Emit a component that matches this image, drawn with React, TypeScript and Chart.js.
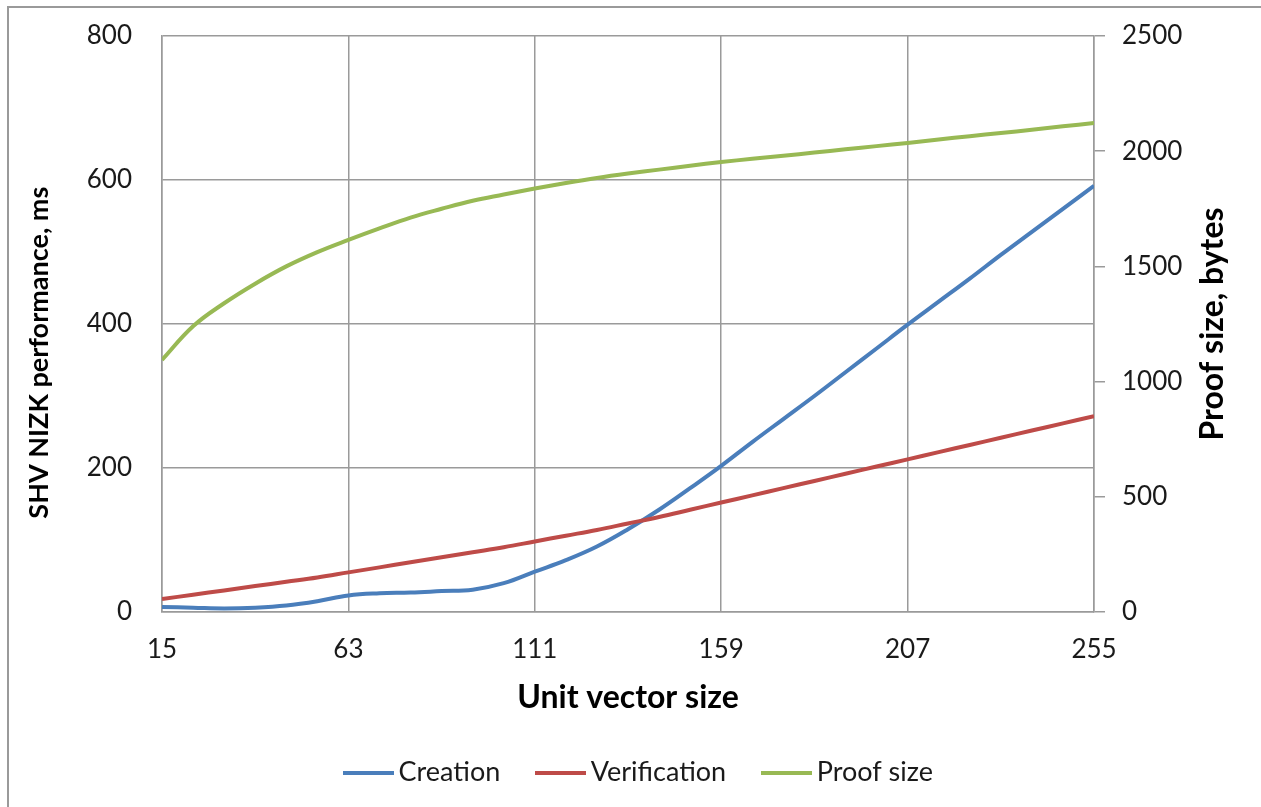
import React, { useEffect, useRef } from "react";
import { Chart, registerables } from "chart.js";

Chart.register(...registerables);

// Unit vector sizes (x values)
const unitSizes = [
  15, 23, 31, 39, 47, 55, 63, 71, 79, 87, 95, 103, 111, 119, 127, 135,
  143, 151, 159, 167, 175, 183, 191, 199, 207, 215, 223, 231, 239, 247, 255,
];

// Creation time, ms (left axis)
const creation = [
  7, 6, 5, 6, 9, 15, 23, 26, 27, 29, 31, 40, 56, 72, 91, 115,
  142, 172, 203, 236, 268, 300, 333, 366, 399, 431, 463, 496, 528, 560, 592,
];

// Verification time, ms (left axis)
const verification = [
  18, 24, 30, 36, 42, 48, 55, 62, 69, 76, 83, 90, 98, 106, 114, 123,
  132, 142, 152, 162, 172, 182, 192, 202, 212, 222, 232, 242, 252, 262, 272,
];

// Proof size, bytes (right axis)
const proofSize = [
  1094, 1240, 1340, 1425, 1500, 1562, 1615, 1665, 1712, 1750, 1785, 1812, 1838, 1862, 1884, 1903,
  1920, 1937, 1953, 1967, 1980, 1994, 2008, 2022, 2036, 2051, 2065, 2079, 2093, 2108, 2122,
];

const xTicks = [15, 63, 111, 159, 207, 255];
const seriesNames = ["Creation", "Verification", "Proof size"];
const seriesColors = ["#4A7EBB", "#BE4B48", "#98B954"];
const rightTitle = "Proof size, bytes";

const FONT = "Lato";
const GRID = "#9a9a9a";
const TEXT = "#1a1a1a";

function makeLineImage(color: string, width: number, thickness: number) {
  const c = document.createElement("canvas");
  c.width = width;
  c.height = thickness;
  const g = c.getContext("2d")!;
  g.fillStyle = color;
  g.fillRect(0, 0, width, thickness);
  return c;
}

// Right-axis title reading bottom-to-top (as in the reference), and legend nudge
const customPlugin = {
  id: "custom",
  afterLayout(chart: any) {
    if (chart.legend) {
      chart.legend.left += 12;
      chart.legend.right += 12;
    }
  },
  afterDraw(chart: any) {
    const s = chart.scales.y2;
    if (!s) return;
    const ctx = chart.ctx;
    ctx.save();
    ctx.translate(s.right - 48, (s.top + s.bottom) / 2);
    ctx.rotate(-Math.PI / 2);
    ctx.font = `bold 32px ${FONT}`;
    ctx.fillStyle = "#000";
    ctx.textAlign = "center";
    ctx.textBaseline = "middle";
    ctx.fillText(rightTitle, 0, 0);
    ctx.restore();
  },
};

export default function App() {
  const ref = useRef<HTMLCanvasElement | null>(null);

  useEffect(() => {
    if (!ref.current) return;
    const toXY = (arr: number[]) => unitSizes.map((x, i) => ({ x, y: arr[i] }));
    const legendBoxW = 33;
    const images = seriesColors.map((c) => makeLineImage(c, legendBoxW + 18, 4));

    const chart = new Chart(ref.current, {
      type: "line",
      data: {
        datasets: [
          { label: seriesNames[0], data: toXY(creation), borderColor: seriesColors[0], backgroundColor: seriesColors[0], yAxisID: "y", order: 2 },
          { label: seriesNames[1], data: toXY(verification), borderColor: seriesColors[1], backgroundColor: seriesColors[1], yAxisID: "y", order: 1 },
          { label: seriesNames[2], data: toXY(proofSize), borderColor: seriesColors[2], backgroundColor: seriesColors[2], yAxisID: "y2", order: 0 },
        ].map((d) => ({ ...d, borderWidth: 4, pointRadius: 0, pointHoverRadius: 0, tension: 0.4, fill: false })),
      },
      plugins: [customPlugin],
      options: {
        animation: false,
        responsive: false,
        events: [],
        layout: { padding: { top: 36, left: 0, right: 0, bottom: 11 } },
        font: { family: FONT },
        plugins: {
          tooltip: { enabled: false },
          legend: {
            position: "bottom",
            labels: {
              font: { family: FONT, size: 27 },
              color: TEXT,
              padding: 44,
              usePointStyle: true,
              pointStyleWidth: legendBoxW,
              boxHeight: 4,
              sort: (a: any, b: any) => a.datasetIndex - b.datasetIndex,
              generateLabels: (ch: any) => {
                const items = Chart.defaults.plugins.legend.labels.generateLabels(ch);
                return items.map((it: any) => ({ ...it, pointStyle: images[it.datasetIndex] }));
              },
            },
          },
        },
        scales: {
          x: {
            type: "linear",
            min: 15,
            max: 255,
            afterBuildTicks: (s: any) => {
              s.ticks = xTicks.map((v) => ({ value: v }));
            },
            afterFit: (s: any) => {
              s.height = 103;
            },
            grid: { color: GRID, lineWidth: 1.5, drawTicks: false },
            border: { color: GRID, width: 1.5 },
            ticks: { font: { family: FONT, size: 26 }, color: TEXT, padding: 22, maxRotation: 0 },
            title: {
              display: true,
              text: "Unit vector size",
              font: { family: FONT, size: 32, weight: "bold", lineHeight: 1.1 },
              color: "#000",
              padding: { top: 0, bottom: 0 },
            },
          },
          y: {
            position: "left",
            min: 0,
            max: 800,
            ticks: {
              stepSize: 200,
              font: { family: FONT, size: 26 },
              color: TEXT,
              padding: 17,
              callback: (v: any) => String(v) + "\u2002",
            },
            afterFit: (s: any) => {
              s.width = 162;
            },
            grid: { color: GRID, lineWidth: 1.5, drawTicks: false },
            border: { color: GRID, width: 1.5 },
            title: {
              display: true,
              text: "SHV NIZK performance, ms\u2003\u2003\u2002\u2009",
              font: { family: FONT, size: 27, weight: "bold" },
              color: "#000",
              padding: { top: 23, bottom: 0 },
            },
          },
          y2: {
            position: "right",
            min: 0,
            max: 2500,
            ticks: {
              stepSize: 500,
              font: { family: FONT, size: 26 },
              color: TEXT,
              padding: 17,
              callback: (v: any) => String(v),
            },
            afterFit: (s: any) => {
              s.width = 167;
            },
            grid: { drawOnChartArea: false, color: GRID, lineWidth: 1.5, drawTicks: true, tickLength: 11 },
            border: { color: GRID, width: 1.5 },
          },
        },
      } as any,
    });
    return () => chart.destroy();
  }, []);

  return (
    <>
      <div
        style={{
          position: "fixed",
          left: 7,
          top: 6,
          width: 1400,
          height: 1000,
          border: "2px solid #9a9a9a",
          boxSizing: "border-box",
        }}
      />
      <div style={{ position: "fixed", left: 0, top: 0, width: 1261, height: 807 }}>
        <canvas ref={ref} width={1261} height={807} style={{ display: "block" }} />
      </div>
    </>
  );
}
